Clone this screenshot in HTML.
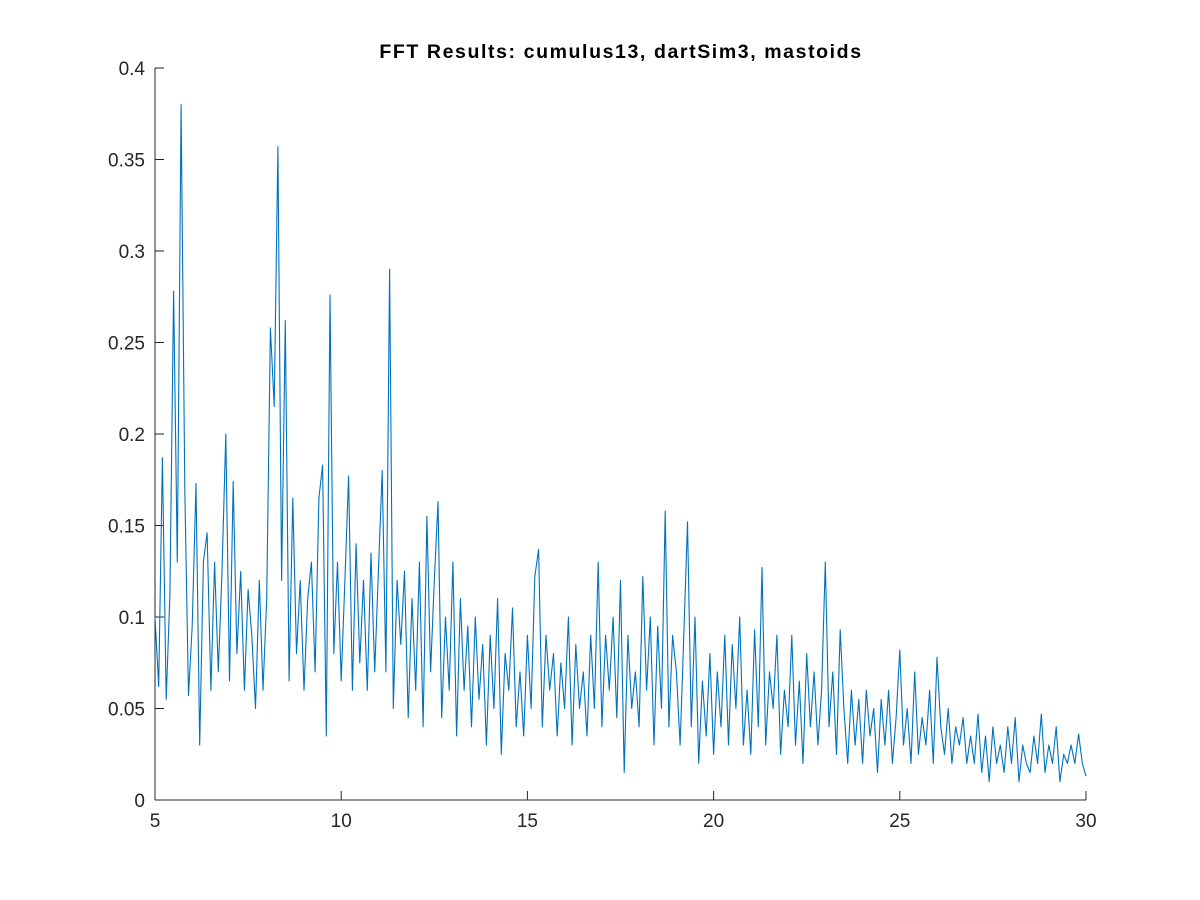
<!DOCTYPE html>
<html><head><meta charset="utf-8"><style>
body{margin:0;background:#fff;}
svg{display:block;font-family:"Liberation Sans",Helvetica,sans-serif;}
</style></head><body>
<svg id="chart" width="1200" height="900" viewBox="0 0 1200 900">
<rect width="1200" height="900" fill="#fff"/>
<text x="621" y="58" text-anchor="middle" font-size="19.5" letter-spacing="1.6" font-weight="bold" fill="#000">FFT Results: cumulus13, dartSim3, mastoids</text>
<g id="axes"></g>
<path id="series" fill="none" stroke="#0072BD" stroke-width="1.1" stroke-linejoin="round"/>
</svg>
<script>
const xStart = 5, xStep = 0.1;
const amplitudes = [
0.10,0.062,0.187,0.055,0.112,0.278,0.13,0.38,0.17,0.057,
0.095,0.173,0.03,0.13,0.146,0.06,0.13,0.07,0.125,0.20,
0.065,0.174,0.08,0.125,0.06,0.115,0.09,0.05,0.12,0.06,
0.11,0.258,0.215,0.357,0.12,0.262,0.065,0.165,0.08,0.12,
0.06,0.11,0.13,0.07,0.165,0.183,0.035,0.276,0.08,0.13,
0.065,0.12,0.177,0.06,0.14,0.075,0.12,0.06,0.135,0.07,
0.125,0.18,0.07,0.29,0.05,0.12,0.085,0.125,0.045,0.11,
0.06,0.13,0.04,0.155,0.07,0.12,0.163,0.045,0.1,0.06,
0.13,0.035,0.11,0.06,0.095,0.04,0.1,0.055,0.085,0.03,
0.09,0.05,0.11,0.025,0.08,0.06,0.105,0.04,0.07,0.035,
0.09,0.05,0.122,0.137,0.04,0.09,0.06,0.08,0.035,0.075,
0.05,0.1,0.03,0.085,0.05,0.07,0.035,0.09,0.05,0.13,
0.04,0.09,0.06,0.1,0.045,0.12,0.015,0.09,0.05,0.07,
0.04,0.122,0.06,0.1,0.03,0.095,0.05,0.158,0.04,0.09,
0.07,0.03,0.09,0.152,0.04,0.1,0.02,0.065,0.035,0.08,
0.025,0.07,0.04,0.09,0.03,0.085,0.05,0.1,0.03,0.06,
0.025,0.093,0.04,0.127,0.03,0.07,0.05,0.09,0.025,0.06,
0.04,0.09,0.03,0.065,0.02,0.08,0.04,0.07,0.03,0.06,
0.13,0.04,0.07,0.025,0.093,0.05,0.02,0.06,0.03,0.055,
0.02,0.06,0.035,0.05,0.015,0.055,0.03,0.06,0.02,0.045,
0.082,0.03,0.05,0.02,0.07,0.025,0.045,0.03,0.06,0.02,
0.078,0.04,0.025,0.05,0.02,0.04,0.03,0.045,0.02,0.035,
0.02,0.047,0.015,0.035,0.01,0.04,0.02,0.03,0.015,0.04,
0.02,0.045,0.01,0.03,0.02,0.015,0.035,0.02,0.047,0.015,
0.03,0.02,0.04,0.01,0.025,0.02,0.03,0.02,0.036,0.02,
0.013];
const xTicks = [5,10,15,20,25,30];
const yTicks = [0,0.05,0.1,0.15,0.2,0.25,0.3,0.35,0.4];
const yTickLabels = ["0","0.05","0.1","0.15","0.2","0.25","0.3","0.35","0.4"];

const X0=155,X1=1086,Y0=800,Y1=68;
function sx(v){return X0+(v-5)/(30-5)*(X1-X0);}
function sy(v){return Y0-(v-0)/(0.4-0)*(Y0-Y1);}
const NS='http://www.w3.org/2000/svg';
const g=document.getElementById('axes');
function mk(tag,attrs){const e=document.createElementNS(NS,tag);for(const k in attrs)e.setAttribute(k,attrs[k]);return e;}

let ax=mk('line',{x1:X0,y1:Y0,x2:X1,y2:Y0,stroke:'#262626','stroke-width':1});


g.appendChild(ax);
let ay=mk('line',{x1:X0,y1:Y0,x2:X0,y2:Y1,stroke:'#262626','stroke-width':1});


g.appendChild(ay);

xTicks.forEach(t=>{
  const x=sx(t);
  const tk=mk('line',{x1:x,y1:Y0,x2:x,y2:Y0-9,stroke:'#262626'});
  
  
  g.appendChild(tk);
  const lb=mk('text',{x:x,y:Y0+27,'text-anchor':'middle','font-size':19,fill:'#262626'});
  lb.textContent=String(t);
  
  
  g.appendChild(lb);
});
yTicks.forEach((t,i)=>{
  const y=sy(t);
  const tk=mk('line',{x1:X0,y1:y,x2:X0+9,y2:y,stroke:'#262626'});
  
  
  g.appendChild(tk);
  const lb=mk('text',{x:X0-10,y:y+7,'text-anchor':'end','font-size':19,fill:'#262626'});
  lb.textContent=yTickLabels[i];
  
  
  g.appendChild(lb);
});

let d='';
amplitudes.forEach((v,i)=>{
  const x=sx(xStart+i*xStep), y=sy(v);
  d+=(i?'L':'M')+x.toFixed(1)+' '+y.toFixed(1);
});
document.getElementById('series').setAttribute('d',d);
</script>
</body></html>
